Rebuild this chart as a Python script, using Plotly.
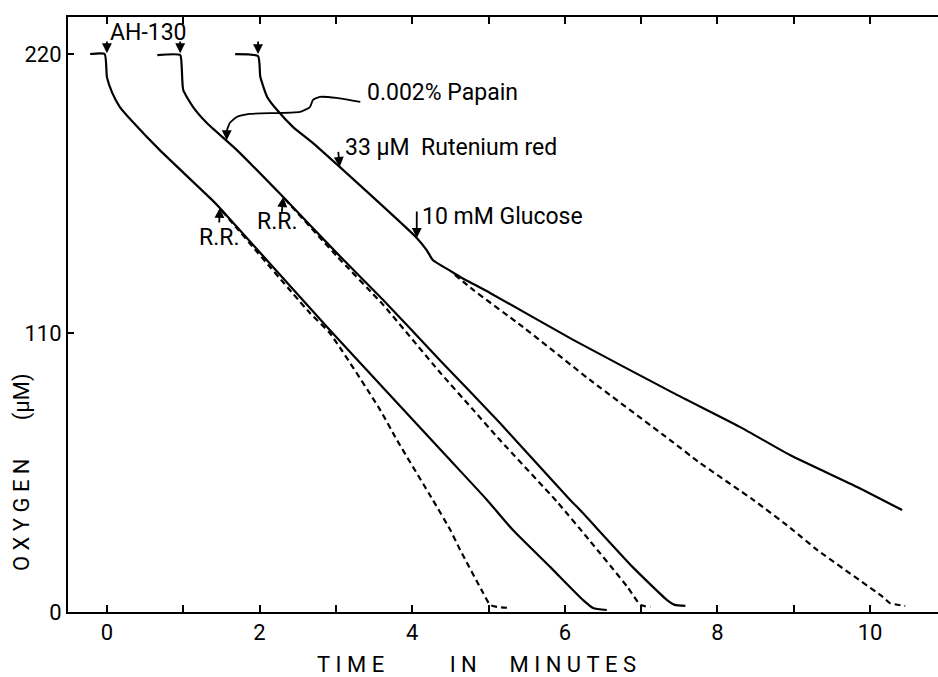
import plotly.graph_objects as go

NB = "\u00a0"

# ---------------- data (time in minutes, oxygen in uM) ----------------
A_SOLID_T = [-0.22, -0.03, 0.00, 0.07, 0.17, 0.34, 0.69, 1.39, 1.48, 2.92, 4.46, 4.98, 5.32, 5.81, 6.24, 6.37, 6.55]
A_SOLID_O = [220.0, 220.0, 210.9, 204.7, 199.1, 193.2, 182.2, 162.1, 159.3, 111.2, 61.1, 44.2, 32.3, 17.7, 4.7, 1.6, 0.8]

A_DASH_T = [1.51, 2.66, 2.92, 3.58, 3.80, 4.27, 4.50, 4.63, 4.93, 5.02, 5.11, 5.28]
A_DASH_O = [158.1, 117.9, 110.0, 79.7, 67.8, 44.2, 32.3, 24.4, 7.5, 2.8, 2.0, 1.6]

B_SOLID_T = [0.66, 0.96, 0.98, 1.00, 1.13, 1.31, 1.70, 2.31, 3.01, 3.62, 4.36, 5.15, 6.07, 6.20, 6.89, 7.34, 7.44, 7.58]
B_SOLID_O = [219.6, 219.6, 214.9, 205.8, 199.1, 192.8, 182.2, 163.6, 141.6, 123.0, 99.4, 74.5, 44.2, 40.2, 17.7, 4.7, 2.8, 2.4]

B_DASH_T = [2.33, 3.01, 3.62, 4.36, 4.80, 5.15, 5.90, 6.33, 6.82, 6.99, 7.12]
B_DASH_O = [162.9, 140.4, 121.1, 94.6, 79.7, 67.8, 43.4, 28.0, 9.9, 2.8, 2.0]

C_SOLID_T = [1.68, 1.98, 2.01, 2.10, 2.23, 2.44, 2.70, 3.05, 4.06, 4.19, 4.27, 4.50, 4.63, 5.02, 6.11, 7.42, 8.30, 8.95, 9.83, 10.42]
C_SOLID_O = [220.0, 219.2, 211.0, 203.1, 197.9, 191.2, 184.9, 175.5, 147.5, 142.7, 138.8, 134.5, 132.1, 125.8, 107.3, 86.4, 72.9, 61.9, 49.3, 40.2]

C_DASH_T = [4.56, 4.80, 5.45, 6.33, 7.38, 7.77, 8.47, 8.99, 9.31, 10.17, 10.26, 10.46]
C_DASH_O = [132.9, 127.0, 112.4, 91.5, 67.8, 58.8, 44.2, 32.3, 24.4, 5.9, 3.5, 2.4]

# curved leader line from the papain label to its arrow
PAPAIN_PATH_T = [3.32, 3.01, 2.79, 2.70, 2.66, 2.53, 1.87, 1.70, 1.61, 1.57]
PAPAIN_PATH_O = [201.1, 202.7, 203.1, 201.9, 199.1, 197.2, 196.4, 195.2, 192.8, 189.7]

X_TICKS = [0, 1, 2, 3, 4, 5, 6, 7, 8, 9, 10]
X_TICK_TEXT = ["0", "", "2", "", "4", "", "6", "", "8", "", "10"]
Y_TICKS = [0, 110, 220]
Y_TICK_TEXT = ["0", "110", "220"]

# arrows: (tip_t, tip_o, tail_t, tail_o)
ARROWS = [
    (0.00, 220.3, 0.00, 225.5),
    (0.96, 220.3, 0.96, 225.5),
    (1.98, 220.0, 1.98, 225.5),
    (1.57, 186.0, 1.57, 190.0),
    (3.05, 175.5, 3.03, 182.0),
    (4.06, 147.5, 4.06, 158.5),
    (2.31, 163.6, 2.29, 157.2),
    (1.48, 159.3, 1.47, 153.0),
]

# labels: (text, t, o, xanchor)
LABELS = [
    ("AH-130", 0.01, 228.6, "left"),
    ("0.002%" + NB + "Papain", 3.38, 204.7, "left"),
    ("33" + NB + "µM" + NB * 2 + "Rutenium" + NB + "red", 3.09, 183.0, "left"),
    ("10" + NB + "mM" + NB + "Glucose", 4.10, 155.8, "left"),
    ("R.R.", 2.23, 153.8, "center"),
    ("R.R.", 1.47, 147.5, "center"),
]

FONT = "Roboto, 'DejaVu Sans', sans-serif"

fig = go.Figure()

def add_line(t, o, dash=None, width=2.2):
    fig.add_trace(go.Scatter(
        x=t, y=o, mode="lines", showlegend=False, hoverinfo="skip",
        line=dict(color="black", width=width, dash=dash, shape="spline", smoothing=0.5),
    ))

add_line(A_SOLID_T, A_SOLID_O)
add_line(A_DASH_T, A_DASH_O, dash="6px,4px")
add_line(B_SOLID_T, B_SOLID_O)
add_line(B_DASH_T, B_DASH_O, dash="6px,4px")
add_line(C_SOLID_T, C_SOLID_O)
add_line(C_DASH_T, C_DASH_O, dash="6px,4px")
add_line(PAPAIN_PATH_T, PAPAIN_PATH_O, width=1.8)

for tip_t, tip_o, tail_t, tail_o in ARROWS:
    fig.add_annotation(
        x=tip_t, y=tip_o, ax=tail_t, ay=tail_o, xref="x", yref="y", axref="x", ayref="y",
        showarrow=True, arrowhead=2, arrowsize=1.1, arrowwidth=1.8, arrowcolor="black", text="",
    )

for text, t, o, xa in LABELS:
    fig.add_annotation(
        x=t, y=o, xref="x", yref="y", text=text, showarrow=False, xanchor=xa, yanchor="middle",
        font=dict(family=FONT, size=23, color="black"),
    )

# axis titles
fig.add_annotation(
    x=-0.053, y=0.235, xref="paper", yref="paper", textangle=-90, showarrow=False,
    xanchor="center", yanchor="middle",
    text=NB.join("OXYGEN") + NB * 7 + "(µM)",
    font=dict(family=FONT, size=22, color="black"),
)
fig.add_annotation(
    x=0.469, y=-0.089, xref="paper", yref="paper", showarrow=False,
    xanchor="center", yanchor="middle",
    text=NB.join("TIME") + NB * 12 + NB.join("IN") + NB * 6 + NB.join("MINUTES"),
    font=dict(family=FONT, size=22, color="black"),
)

fig.update_xaxes(
    range=[-0.51, 10.89], tickmode="array", tickvals=X_TICKS, ticktext=X_TICK_TEXT,
    ticks="inside", ticklen=7, tickwidth=2, tickcolor="black",
    showline=True, linewidth=2, linecolor="black", mirror="ticks",
    showgrid=False, zeroline=False,
    tickfont=dict(family=FONT, size=22, color="black"),
)
fig.update_yaxes(
    range=[0, 234.6], tickmode="array", tickvals=Y_TICKS, ticktext=Y_TICK_TEXT,
    ticks="inside", ticklen=6, tickwidth=2, tickcolor="black",
    showline=True, linewidth=2, linecolor="black", mirror=False,
    showgrid=False, zeroline=False,
    tickfont=dict(family=FONT, size=22, color="black"),
)

fig.update_layout(
    width=938, height=677,
    margin=dict(l=68, r=0, t=17, b=65),
    paper_bgcolor="white", plot_bgcolor="white",
    showlegend=False,
)

fig.write_html("out.html")
